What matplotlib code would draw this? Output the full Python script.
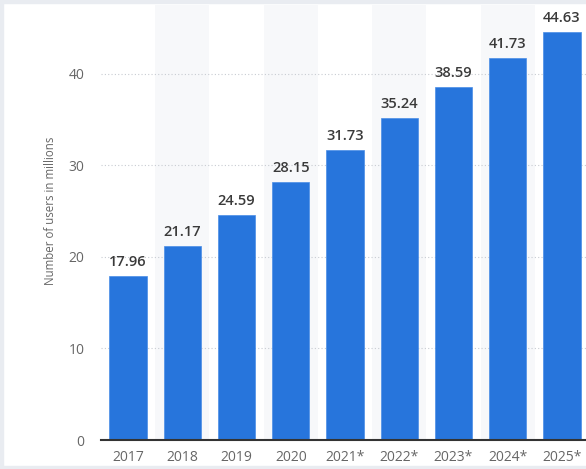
import matplotlib
matplotlib.use("Agg")
import matplotlib.pyplot as plt
from matplotlib.patches import Rectangle

years = ["2017", "2018", "2019", "2020", "2021*", "2022*", "2023*", "2024*", "2025*"]
users = [17.96, 21.17, 24.59, 28.15, 31.73, 35.24, 38.59, 41.73, 44.63]
yticks = [0, 10, 20, 30, 40]

plt.rcParams["font.family"] = ["Open Sans", "DejaVu Sans"]

W, H = 586, 469
fig = plt.figure(figsize=(W / 100, H / 100), dpi=100)
fig.patch.set_facecolor("white")

# light frame of the screenshot
fig.patches.append(Rectangle((0, 0), 1, 3 / H, transform=fig.transFigure, color="#e9ecf1", zorder=0))
fig.patches.append(Rectangle((0, 1 - 3 / H), 1, 3 / H, transform=fig.transFigure, color="#e9ecf1", zorder=0))
fig.patches.append(Rectangle((0, 0), 3 / W, 1, transform=fig.transFigure, color="#e9ecf1", zorder=0))

ax = fig.add_axes([101 / W, 29 / H, 488 / W, 435 / H])
ax.set_facecolor("none")

x = list(range(len(years)))
for i in x:
    if i % 2 == 1:
        ax.axvspan(i - 0.5, i + 0.5, color="#f7f8fa", zorder=0, lw=0)

ax.set_ylim(0, 47.54)
ax.set_xlim(-0.5, len(years) - 0.5)
ax.set_yticks(yticks)
ax.yaxis.grid(True, linestyle=(0, (1, 2)), color="#c8ccd2", linewidth=0.8)
ax.set_axisbelow(True)

bars = ax.bar(x, users, width=0.69, color="#2775dc", edgecolor="#4a8de6", linewidth=0.5, zorder=3)
for xi, v in zip(x, users):
    ax.annotate(f"{v:.2f}", (xi, v), xytext=(0, 5), textcoords="offset points",
                ha="center", va="bottom", fontsize=10.5, color="#3a3a3a",
                fontweight=600, zorder=4)

ax.set_xticks(x)
ax.set_xticklabels(years)
for s in ["top", "right", "left"]:
    ax.spines[s].set_visible(False)
ax.spines["bottom"].set_color("#333333")
ax.spines["bottom"].set_linewidth(1.5)
ax.spines["bottom"].set_zorder(5)
ax.tick_params(axis="both", length=0, labelsize=10, labelcolor="#666666")
ax.tick_params(axis="y", pad=12)
ax.tick_params(axis="x", pad=7)

fig.text(50 / W, 1 - 211 / H, "Number of users in millions", rotation=90,
         ha="center", va="center", fontsize=8.3, color="#666666")

fig.savefig("out.png", dpi=100)
